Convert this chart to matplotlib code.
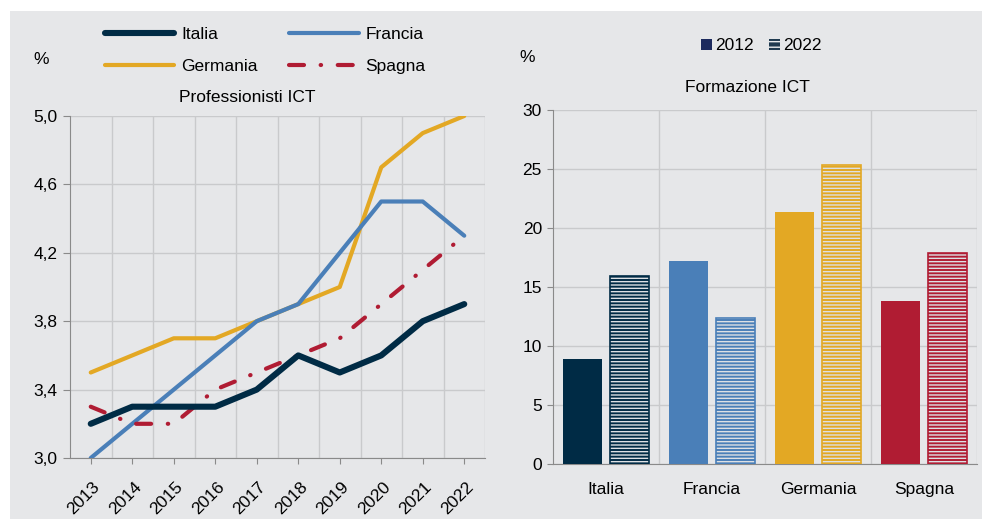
import numpy as np
import matplotlib
matplotlib.use("Agg")
import matplotlib.pyplot as plt
from matplotlib.patches import Rectangle, Patch
from matplotlib.lines import Line2D
from matplotlib.transforms import ScaledTranslation

plt.rcParams['font.family'] = ['Liberation Sans', 'DejaVu Sans']
plt.rcParams['hatch.linewidth'] = 1.0

# --- data ---
anni = ['2013', '2014', '2015', '2016', '2017', '2018', '2019', '2020', '2021', '2022']
italia = [3.2, 3.3, 3.3, 3.3, 3.4, 3.6, 3.5, 3.6, 3.8, 3.9]
francia = [3.0, 3.2, 3.4, 3.6, 3.8, 3.9, 4.2, 4.5, 4.5, 4.3]
germania = [3.5, 3.6, 3.7, 3.7, 3.8, 3.9, 4.0, 4.7, 4.9, 5.0]
spagna = [3.3, 3.2, 3.2, 3.4, 3.5, 3.6, 3.7, 3.9, 4.1, 4.3]

paesi = ['Italia', 'Francia', 'Germania', 'Spagna']
form_2012 = [8.9, 17.2, 21.35, 13.8]
form_2022 = [15.9, 12.4, 25.3, 17.9]

col_it = '#002b45'
col_fr = '#4a7fb8'
col_de = '#e3a824'
col_es = '#b01c33'
colori = [col_it, col_fr, col_de, col_es]
bg = '#e6e7e9'
grid_c = '#c9cacc'
spine_c = '#8a8a8a'
stripe = '#dde0e4'
fs = 12.5
lw_thin = 3.0
lw_it = 4.4
sp_dash = (3.6, 4.0, 0.1, 4.0)

W, H = 982, 519
fig = plt.figure(figsize=(W / 100, H / 100), dpi=100)
fig.patch.set_facecolor('white')
fig.patches.append(Rectangle((10 / W, 0), 1 - 10 / W, 1 - 11 / H, transform=fig.transFigure,
                             facecolor=bg, edgecolor='none', zorder=-10))

def fx(px):
    return px / W

def fy(py):
    return 1 - py / H

# ---------------- left chart ----------------
ax1 = fig.add_axes([fx(70), fy(458), fx(485) - fx(70), fy(116) - fy(458)])
ax1.set_facecolor(bg)
x = np.arange(len(anni))
ax1.plot(x, germania, color=col_de, lw=lw_thin, solid_capstyle='round', zorder=3)
ax1.plot(x, francia, color=col_fr, lw=lw_thin, solid_capstyle='round', zorder=4)
ax1.plot(x, spagna, color=col_es, lw=lw_thin, dashes=sp_dash,
         dash_capstyle='round', zorder=5)
ax1.plot(x, italia, color=col_it, lw=lw_it, solid_capstyle='round', zorder=6)

ax1.set_xlim(-0.5, len(anni) - 0.5)
ax1.set_ylim(3.0, 5.0)
yt = [3.0, 3.4, 3.8, 4.2, 4.6, 5.0]
ax1.set_yticks(yt)
ax1.set_yticklabels([f'{v:.1f}'.replace('.', ',') for v in yt])
ax1.set_xticks(x)
ax1.set_xticklabels(anni, rotation=45, ha='right', va='center', rotation_mode='anchor')
ax1.set_xticks(np.arange(len(anni)) + 0.5, minor=True)
ax1.tick_params(axis='x', which='major', length=4, color=spine_c, direction='out',
                pad=15, labelsize=fs)
ax1.tick_params(axis='x', which='minor', length=0)
ax1.tick_params(axis='y', length=5, color=spine_c, pad=4, labelsize=fs)
shift = ScaledTranslation(7 / 100, 0, fig.dpi_scale_trans)
for lab in ax1.get_xticklabels():
    lab.set_transform(lab.get_transform() + shift)
ax1.grid(axis='y', color=grid_c, lw=1)
ax1.grid(axis='x', which='minor', color=grid_c, lw=1)
ax1.set_axisbelow(True)
for s in ['top', 'right']:
    ax1.spines[s].set_visible(False)
for s in ['left', 'bottom']:
    ax1.spines[s].set_color(spine_c)

handles = [
    Line2D([], [], color=col_it, lw=lw_it, solid_capstyle='round'),
    Line2D([], [], color=col_de, lw=lw_thin, solid_capstyle='round'),
    Line2D([], [], color=col_fr, lw=lw_thin, solid_capstyle='round'),
    Line2D([], [], color=col_es, lw=lw_thin, dashes=sp_dash, dash_capstyle='round'),
]
fig.legend(handles, ['Italia', 'Germania', 'Francia', 'Spagna'], ncol=2,
           loc='upper left', bbox_to_anchor=(fx(105), fy(27)), frameon=False,
           fontsize=fs, handlelength=4.0, handletextpad=0.4, columnspacing=1.8,
           labelspacing=0.95, borderpad=0, borderaxespad=0)

fig.text(fx(41), fy(60), '%', ha='center', va='center', fontsize=fs)
fig.text(fx(247), fy(97), 'Professionisti ICT', ha='center', va='center', fontsize=fs)

# ---------------- right chart ----------------
ax2 = fig.add_axes([fx(553), fy(464), fx(977) - fx(553), fy(110) - fy(464)])
ax2.set_facecolor(bg)
xc = np.arange(len(paesi))
bw = 0.37
off = 0.22
ax2.bar(xc - off, form_2012, width=bw, color=colori, edgecolor='none', zorder=3)
# 2022: striped fill + coloured outline
ax2.bar(xc + off, form_2022, width=bw, color=colori, edgecolor=stripe, hatch='-----',
        linewidth=0, zorder=3)
ax2.bar(xc + off, form_2022, width=bw, fill=False, edgecolor=colori, linewidth=1.2, zorder=4)

ax2.set_xlim(-0.5, len(paesi) - 0.5)
ax2.set_ylim(0, 30)
ax2.set_yticks(np.arange(0, 31, 5))
ax2.set_xticks(xc)
ax2.set_xticklabels(paesi)
ax2.set_xticks(xc + 0.5, minor=True)
ax2.tick_params(axis='x', which='both', length=0, pad=13, labelsize=fs)
ax2.tick_params(axis='y', length=4, color=spine_c, pad=4, labelsize=fs)
ax2.grid(axis='y', color=grid_c, lw=1)
ax2.grid(axis='x', which='minor', color=grid_c, lw=1)
ax2.set_axisbelow(True)
for s in ['top', 'right']:
    ax2.spines[s].set_visible(False)
for s in ['left', 'bottom']:
    ax2.spines[s].set_color(spine_c)

leg_h = [Patch(facecolor='#1c2a5e', edgecolor='none'),
         Patch(facecolor='#1f3a50', edgecolor='#e8eaec', hatch='---', linewidth=0)]
fig.legend(leg_h, ['2012', '2022'], ncol=2, loc='center', bbox_to_anchor=(fx(761), fy(46)),
           frameon=False, fontsize=fs, handlelength=0.65, handleheight=0.65,
           handletextpad=0.15, columnspacing=0.9, borderpad=0)

fig.text(fx(527), fy(57), '%', ha='center', va='center', fontsize=fs)
fig.text(fx(747), fy(88), 'Formazione ICT', ha='center', va='center', fontsize=fs)

fig.savefig('out.png', dpi=100)
